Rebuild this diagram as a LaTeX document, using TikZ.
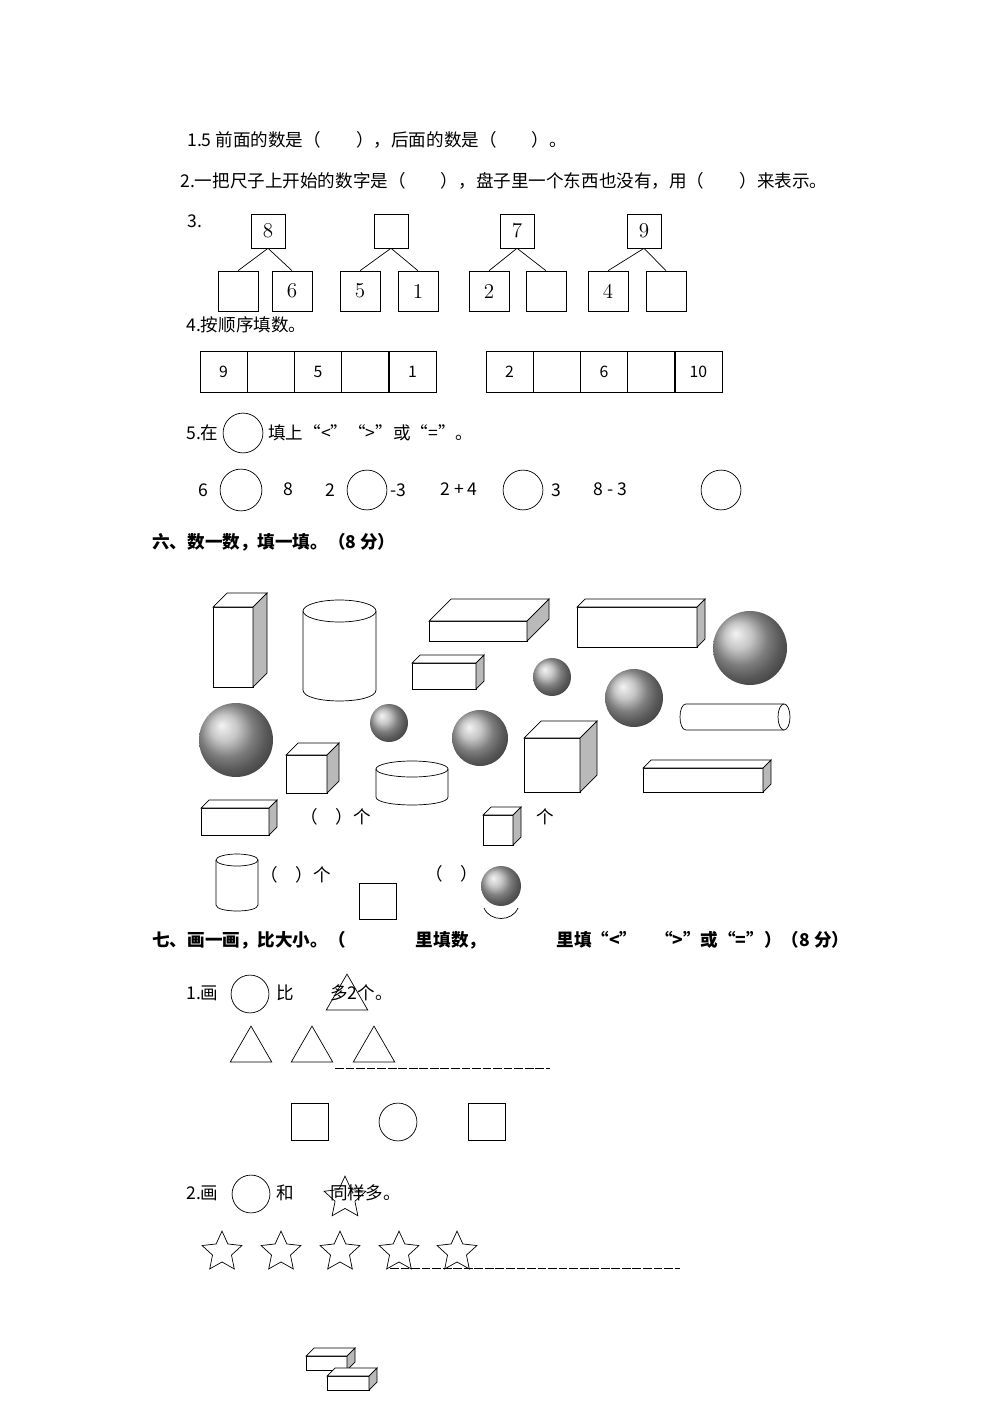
\documentclass[tikz,border=0pt]{standalone}
\usepackage{fontspec}
\newfontfamily\cjk{Noto Sans CJK SC}
\usetikzlibrary{shapes.geometric}

% cuboid: front x1,ybottom,x2,ytop and depth
\newcommand{\cuboid}[5]{%
  \draw[fill=white] (#1,#2) rectangle (#3,#4);
  \draw[fill=white] (#1,#4) -- ++(#5,-#5) -- ++(#3-#1,0) -- (#3,#4) -- cycle;
  \draw[fill=gray!55] (#3,#4) -- ++(#5,-#5) -- ++(0,#2-#4) -- (#3,#2) -- cycle;
}
\newcommand{\ball}[3]{\shade[ball color=white!40!gray] (#1,#2) circle (#3);}
% cylinder: x1,x2,ytop,ybottom,ry
\newcommand{\cyl}[5]{%
  \draw[fill=white] (#1,#3) -- (#1,#4) .. controls (#1,#4+1.33*#5) and (#2,#4+1.33*#5) .. (#2,#4) -- (#2,#3);
  \draw (#1/2+#2/2,#3) ellipse[x radius={(#2-#1)/2},y radius=#5];
}
\newdimen\px \px=0.567pt

\tikzset{
  txt/.style={anchor=west, inner sep=0pt, font=\cjk\fontsize{10}{12}\selectfont},
  hd/.style={txt, font=\cjk\bfseries\fontsize{10}{12}\selectfont},
  numbox/.style={draw, minimum size=#1\px, inner sep=0pt, font=\rmfamily\large},
  numbox/.default=40,
  cell/.style={draw, minimum width=47.2\px, minimum height=41\px, inner sep=0pt, font=\cjk\small},
  ring/.style={draw, circle, minimum size=#1\px, inner sep=0pt},
  tri/.style={draw, regular polygon, regular polygon sides=3, minimum size=#1\px, inner sep=0pt},
  starry/.style={draw, star, star points=5, star point ratio=2.1, minimum size=#1\px, inner sep=0pt}
}

\begin{document}
\begin{tikzpicture}[x=0.02cm, y=-0.02cm]
  \useasboundingbox (0,0) rectangle (1000,1415);

  \node[txt] (q1) at (187,140) {1.5 前面的数是（　　），后面的数是（　　）。};
  \node[txt] (q2) at (180,181) {2.一把尺子上开始的数字是（　　），盘子里一个东西也没有，用（　　）来表示。};
  \node[txt] (q3) at (187,221) {3.};

  % trees
  \foreach \n/\tx/\lx/\rx/\tv/\lv/\rv in {a/268/238/292/8//6, b/391/360/418//5/1, c/517/489/546/7/2/, d/644/608/666/9/4/} {
    \node[numbox=34] (t\n) at (\tx,231) {\tv};
    \node[numbox] (l\n) at (\lx,291) {\lv};
    \node[numbox] (r\n) at (\rx,291) {\rv};
    \draw (t\n.south) -- (l\n.north);
    \draw (t\n.south) -- (r\n.north);
  }

  \node[txt] (q4) at (186,325) {4.按顺序填数。};
  \foreach \v [count=\i from 0] in {9,,5,,1}
    \node[cell] (s\i) at (223.6+47.2*\i,371.5) {\v};
  \foreach \v [count=\i from 0] in {2,,6,,10}
    \node[cell] (u\i) at (509.6+47.2*\i,371.5) {\v};

  \node[txt] (q5) at (186,433) {5.在};
  \node[ring=40] (c0) at (243,433) {};
  \node[txt] (q5b) at (268,433) {填上“<”“>”或“=”。};

  \node[txt] (e1) at (198,490) {6};
  \node[ring=42] (c1) at (241,490) {};
  \node[txt] (e2) at (283,489) {8};
  \node[txt] (e3) at (325,490) {2};
  \node[ring=40] (c2) at (367,490) {};
  \node[txt] (e4) at (390,490) {-3};
  \node[txt] (e5) at (440,489) {2 + 4};
  \node[ring=40] (c3) at (523,490) {};
  \node[txt] (e6) at (551,490) {3};
  \node[txt] (e7) at (593,489) {8 - 3};
  \node[ring=40] (c4) at (721,490) {};

  \node[hd] (h6) at (152,542) {六、数一数，填一填。（8 分）};

  % solids
  \cuboid{213}{687}{253}{607}{14}
  \cyl{303}{376}{611}{690}{11}
  \cuboid{429}{641}{527}{621}{22}
  \cuboid{577}{647}{697}{607}{8}
  \ball{750}{648}{37}
  \cuboid{412}{689}{476}{663}{8}
  \ball{552}{677}{19}
  \ball{634}{698}{29}
  \draw[fill=white] (784,704) -- (686,704) .. controls (678,704) and (678,730) .. (686,730) -- (784,730);
  \draw[fill=white] (784,717) ellipse[x radius=6,y radius=13];
  \ball{236}{740}{37}
  \ball{389}{723}{19}
  \ball{480}{738}{28}
  \cuboid{286}{793}{327}{755}{12}
  \cyl{376}{448}{769}{797}{8}
  \cuboid{524}{792}{580}{738}{17}
  \cuboid{643}{792}{763}{768}{8}
  \cuboid{201}{835}{269}{808}{8}
  \node[txt] (n1) at (300,817) {（　）个};
  \cuboid{483}{845}{513}{815}{8}
  \node[txt] (n2) at (536,817) {个};
  \cyl{216}{258}{860}{905}{6}
  \node[txt] (n3) at (260,875) {（　）个};
  \draw (359,883) rectangle (396,919);
  \node[txt] (n4) at (425,874) {（　）};
  \ball{501}{886}{20}
  \draw (484,908) .. controls (490,922) and (512,922) .. (518,908);

  \node[hd] (h7) at (152,940) {七、画一画，比大小。（　　　　里填数，　　　　里填“<”　“>”或“=”）（8 分）};

  \node[txt] (p1) at (186,993) {1.画};
  \node[ring=38] (c5) at (250,994) {};
  \node[txt] (p1b) at (276,993) {比};
  \node[txt] (p1c) at (330,993) {多2个。};
  \node[tri=48] (tr0) at (347,998) {};
  \foreach \x [count=\i] in {251,312,374}
    \node[tri=48] (tr\i) at (\x,1050) {};
  \draw[dash pattern=on 5pt off 1pt] (335,1068) coordinate (ua) -- (550,1068) coordinate (ub);

  \node[draw, minimum size=37\px] (sq1) at (310,1122) {};
  \node[ring=38] (c6) at (398,1122) {};
  \node[draw, minimum size=37\px] (sq2) at (487,1122) {};

  \node[txt] (p2) at (186,1193) {2.画};
  \node[ring=38] (c7) at (251,1194) {};
  \node[txt] (p2b) at (276,1193) {和};
  \node[txt] (p2c) at (330,1193) {同样多。};
  \node[starry=44] (st0) at (345,1198) {};
  \foreach \x [count=\i] in {222,281,340,399,457}
    \node[starry=42] (st\i) at (\x,1252) {};
  \draw[dash pattern=on 5pt off 1pt] (390,1268) coordinate (uc) -- (680,1268) coordinate (ud);

  \cuboid{306}{1370}{347}{1356}{8}
  \cuboid{327}{1390}{369}{1376}{8}
\end{tikzpicture}
\end{document}
